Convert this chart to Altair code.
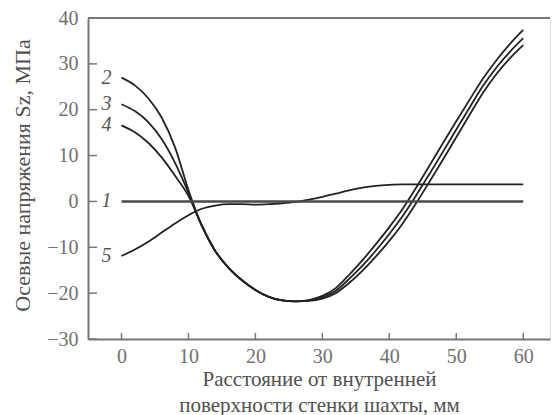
import altair as alt
import pandas as pd

# distance from inner wall surface, mm
x_mm = [0, 2, 4, 6, 8, 10, 12, 14, 16, 18, 20, 22, 24, 26, 28, 30,
        32, 34, 36, 38, 40, 42, 44, 46, 48, 50, 52, 54, 56, 58, 60]

curve_1 = [0.0] * 31
curve_2 = [27.0, 25.3, 22.5, 18.3, 11.8, 2.5, -5.3, -10.8, -14.5, -17.2, -19.3, -20.8,
           -21.6, -21.8, -21.5, -20.6, -18.9, -16.0, -12.8, -9.3, -5.6, -1.6, 3.0, 7.8,
           12.7, 17.5, 22.2, 26.8, 30.8, 34.3, 37.4]
curve_3 = [21.2, 19.7, 17.3, 13.6, 8.4, 1.9, -5.3, -10.8, -14.5, -17.2, -19.3, -20.8,
           -21.6, -21.8, -21.6, -20.9, -19.5, -16.9, -14.0, -10.7, -7.1, -3.2, 1.3, 6.0,
           10.8, 15.7, 20.5, 25.2, 29.2, 32.6, 35.6]
curve_4 = [16.6, 15.1, 12.8, 9.6, 5.6, 1.2, -5.3, -10.8, -14.5, -17.2, -19.3, -20.8,
           -21.6, -21.8, -21.7, -21.2, -20.0, -17.8, -15.1, -12.0, -8.6, -4.8, -0.4, 4.3,
           9.1, 14.0, 18.9, 23.7, 27.8, 31.2, 34.1]
curve_5 = [-11.9, -10.5, -8.8, -6.8, -4.8, -3.0, -1.6, -0.9, -0.6, -0.6, -0.7, -0.6,
           -0.4, -0.1, 0.4, 1.0, 1.7, 2.4, 3.0, 3.4, 3.6, 3.7, 3.7, 3.7, 3.7, 3.7, 3.7,
           3.7, 3.7, 3.7, 3.7]

series_names = ["1", "2", "3", "4", "5"]
x_ticks = [0, 10, 20, 30, 40, 50, 60]
y_ticks = [-30, -20, -10, 0, 10, 20, 30, 40]

curves = [curve_1, curve_2, curve_3, curve_4, curve_5]
rows = []
for name, ys in zip(series_names, curves):
    for xv, yv in zip(x_mm, ys):
        rows.append({"x": xv, "y": yv, "s": name})
df = pd.DataFrame(rows)
labels_df = pd.DataFrame({"x": [x_mm[0]] * 5, "y": [c[0] for c in curves], "s": series_names})

W, H = 462, 321
FONT = "Liberation Serif"

xs = alt.Scale(domain=[-5, 64], nice=False, zero=False)
ys = alt.Scale(domain=[-30, 40], nice=False, zero=False)

x_axis = alt.Axis(values=x_ticks, ticks=False, grid=False, labelFont=FONT, labelFontSize=20,
                  labelColor="#707070", labelPadding=7, domainColor="#777777", domainWidth=2,
                  title=["Расстояние от внутренней", "поверхности стенки шахты, мм"],
                  titleFont=FONT, titleFontSize=21, titleFontWeight="normal", titleColor="#505050",
                  titleLineHeight=26, titleBaseline="alphabetic", titleY=46)
y_axis = alt.Axis(values=y_ticks, ticks=False, grid=False, labelFont=FONT, labelFontSize=20,
                  labelColor="#707070", labelPadding=10, domainColor="#777777", domainWidth=2,
                  title="Осевые напряжения Sz, МПа", titleFont=FONT, titleFontSize=22,
                  titleFontWeight="normal", titleColor="#505050", titleAngle=270,
                  titleAlign="center", titleBaseline="middle", titleX=-66, titleY=157)

base = alt.Chart(df)

others = base.transform_filter(alt.datum.s != "1").mark_line(
    color="#222222", strokeWidth=1.8, interpolate="monotone"
).encode(
    x=alt.X("x:Q", scale=xs, axis=x_axis),
    y=alt.Y("y:Q", scale=ys, axis=y_axis),
    detail="s:N",
)

line1 = base.transform_filter(alt.datum.s == "1").mark_line(
    color="#4a4a4a", strokeWidth=2.6
).encode(x=alt.X("x:Q", scale=xs), y=alt.Y("y:Q", scale=ys))

labels = alt.Chart(labels_df).mark_text(
    font=FONT, fontSize=20, fontStyle="italic", color="#555555", dx=-15, dy=0,
    align="center", baseline="middle"
).encode(x=alt.X("x:Q", scale=xs), y=alt.Y("y:Q", scale=ys), text="s:N")

xt = alt.Chart(pd.DataFrame({"v": x_ticks})).mark_rule(color="#777777", strokeWidth=1.5).encode(
    x=alt.X("v:Q", scale=xs), y=alt.value(H), y2=alt.value(H - 6))
yt = alt.Chart(pd.DataFrame({"v": y_ticks})).mark_rule(color="#777777", strokeWidth=1.5).encode(
    y=alt.Y("v:Q", scale=ys), x=alt.value(0), x2=alt.value(9))
top = alt.Chart(pd.DataFrame({"v": [40]})).mark_rule(color="#777777", strokeWidth=2).encode(
    y=alt.Y("v:Q", scale=ys), x=alt.value(0), x2=alt.value(W))

chart = alt.layer(others, line1, labels, xt, yt, top).properties(
    width=W, height=H,
    autosize=alt.AutoSizeParams(type="none"),
    padding={"left": 80, "top": 10, "right": 1, "bottom": 76},
).configure_view(stroke=None).configure(background="white")

chart.save("out.html", embed_options={"renderer": "svg", "actions": False})
